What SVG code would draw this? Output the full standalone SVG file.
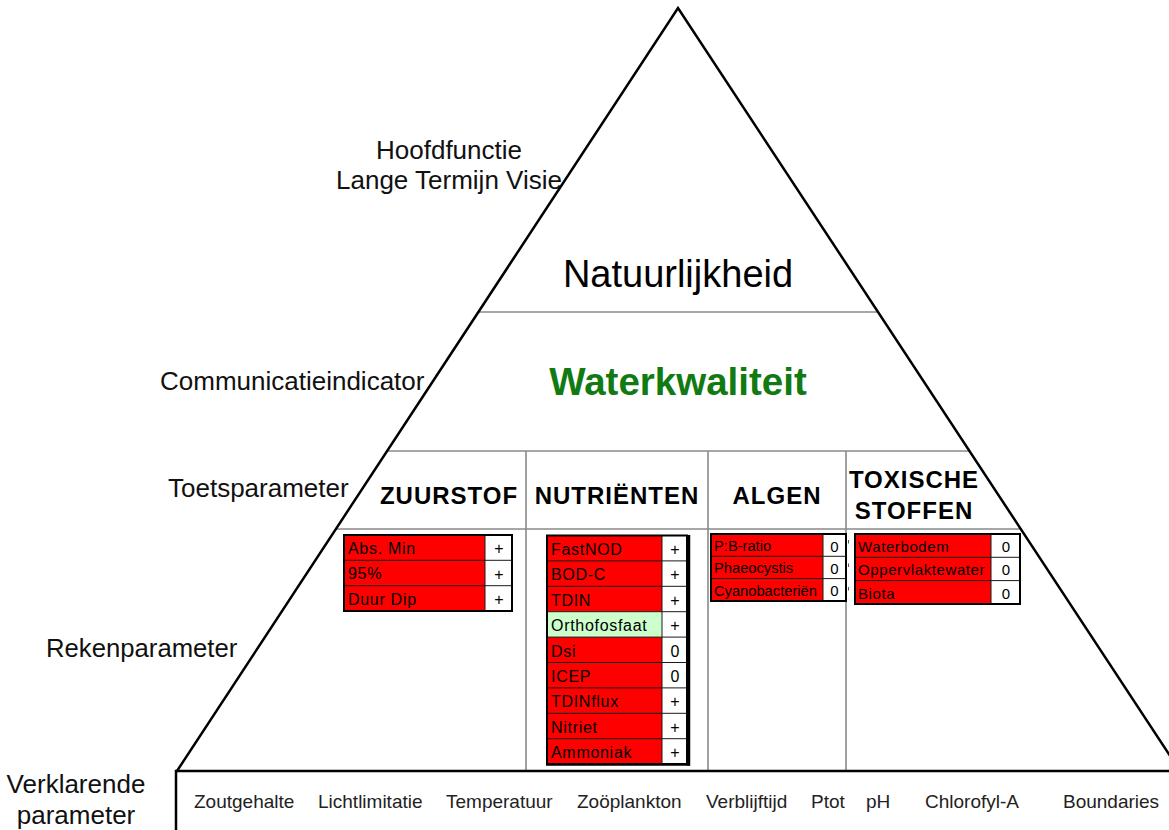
<svg xmlns="http://www.w3.org/2000/svg" width="1169" height="830" viewBox="0 0 1169 830">
  <style>
    .lbl { font-family: "Liberation Sans", Arial, sans-serif; font-size: 26px; fill: #111; }
    .tier { font-family: "Liberation Sans", Arial, sans-serif; fill: #000; text-anchor: middle; }
    .hdr { font-family: "Liberation Sans", Arial, sans-serif; font-size: 24px; font-weight: bold; letter-spacing: 1px; fill: #000; text-anchor: middle; }
    .bot { font-family: "Liberation Sans", Arial, sans-serif; font-size: 19px; fill: #222; }
    .edge { fill: none; stroke: #000; stroke-width: 2.5; stroke-linejoin: miter; }
    .div { stroke: #8a8a8a; stroke-width: 1.6; fill: none; }
    .red { fill: #ff0000; }
    .grn { fill: #ccffcc; }
    .val { fill: #ffffff; }
    .cellline { stroke: #1a1a1a; stroke-width: 1; fill: none; }
    .outer { stroke: #000; stroke-width: 2; fill: none; }
    .cell { font-family: "Liberation Sans", Arial, sans-serif; font-size: 16px; letter-spacing: 0.7px; fill: #000; }
    .cellS { font-family: "Liberation Sans", Arial, sans-serif; font-size: 14.7px; fill: #000; }
    .cellM { font-family: "Liberation Sans", Arial, sans-serif; font-size: 15px; letter-spacing: 0.6px; fill: #000; }
    .v { text-anchor: middle; letter-spacing: 0; }
    .tick { stroke: #555; stroke-width: 1; }
  </style>

  <rect width="1169" height="830" fill="#ffffff"/>

  <!-- pyramid outline, tier dividers and column dividers -->
  <g id="connectors">
    <line class="div" x1="478" y1="312" x2="878" y2="312"/>
    <line class="div" x1="386" y1="451" x2="970" y2="451"/>
    <line class="div" x1="335" y1="529" x2="1021" y2="529"/>
    <line class="div" x1="526" y1="451" x2="526" y2="771"/>
    <line class="div" x1="708" y1="451" x2="708" y2="771"/>
    <line class="div" x1="846" y1="451" x2="846" y2="771"/>
    <polyline class="edge" points="177,771 678,8 1180,771"/>
    <polyline class="edge" points="176,830 176,771 1169,771"/>
  </g>

  <!-- level labels on the left -->
  <g id="level-labels">
    <text class="lbl" x="449" y="159" text-anchor="middle">Hoofdfunctie</text>
    <text class="lbl" x="449" y="189" text-anchor="middle">Lange Termijn Visie</text>
    <text class="lbl" x="160" y="390">Communicatieindicator</text>
    <text class="lbl" x="168" y="497">Toetsparameter</text>
    <text class="lbl" x="46" y="657" style="font-size:25.7px">Rekenparameter</text>
    <text class="lbl" x="76" y="793" text-anchor="middle">Verklarende</text>
    <text class="lbl" x="76" y="824" text-anchor="middle">parameter</text>
  </g>

  <g id="node-natuurlijkheid">
    <text class="tier" x="678" y="287" style="font-size:38px">Natuurlijkheid</text>
  </g>

  <g id="node-waterkwaliteit">
    <text class="tier" x="678" y="395" style="font-size:38.5px;font-weight:bold;fill:#127a12">Waterkwaliteit</text>
  </g>

  <!-- ZUURSTOF -->
  <g id="node-zuurstof">
    <text class="hdr" x="449" y="504">ZUURSTOF</text>
    <rect class="red" x="344" y="535" width="141" height="76"/>
    <rect class="val" x="485" y="535" width="27" height="76"/>
    <line class="cellline" x1="344" y1="560.3" x2="512" y2="560.3"/>
    <line class="cellline" x1="344" y1="585.7" x2="512" y2="585.7"/>
    <line class="cellline" x1="485" y1="535" x2="485" y2="611"/>
    <rect class="outer" x="344" y="535" width="168" height="76"/>
    <text class="cell" x="348" y="553.5">Abs. Min</text>
    <text class="cell" x="348" y="579">95%</text>
    <text class="cell" x="348" y="604.5">Duur Dip</text>
    <text class="cell v" x="499" y="554">+</text>
    <text class="cell v" x="499" y="579.5">+</text>
    <text class="cell v" x="499" y="605">+</text>
  </g>

  <!-- NUTRIËNTEN -->
  <g id="node-nutrienten">
    <text class="hdr" x="617" y="504">NUTRIËNTEN</text>
    <rect class="red" x="547" y="535.5" width="115" height="228.5"/>
    <rect class="grn" x="547" y="611.7" width="115" height="25.4"/>
    <rect class="val" x="662" y="535.5" width="25" height="228.5"/>
    <g class="cellline">
      <line x1="547" y1="560.9" x2="687" y2="560.9"/>
      <line x1="547" y1="586.3" x2="687" y2="586.3"/>
      <line x1="547" y1="611.7" x2="687" y2="611.7"/>
      <line x1="547" y1="637.1" x2="687" y2="637.1"/>
      <line x1="547" y1="662.5" x2="687" y2="662.5"/>
      <line x1="547" y1="687.9" x2="687" y2="687.9"/>
      <line x1="547" y1="713.3" x2="687" y2="713.3"/>
      <line x1="547" y1="738.7" x2="687" y2="738.7"/>
      <line x1="662" y1="535.5" x2="662" y2="764"/>
    </g>
    <rect class="outer" x="547" y="535.5" width="140" height="228.5"/>
    <line x1="688.5" y1="535" x2="688.5" y2="765.5" stroke="#000" stroke-width="3.5"/>
    <line x1="546" y1="764.5" x2="690" y2="764.5" stroke="#000" stroke-width="2.5"/>
    <text class="cell" x="551" y="555">FastNOD</text>
    <text class="cell" x="551" y="580.4">BOD-C</text>
    <text class="cell" x="551" y="605.8">TDIN</text>
    <text class="cell" x="551" y="631.2">Orthofosfaat</text>
    <text class="cell" x="551" y="656.6">Dsi</text>
    <text class="cell" x="551" y="682">ICEP</text>
    <text class="cell" x="551" y="707.4">TDINflux</text>
    <text class="cell" x="551" y="732.8">Nitriet</text>
    <text class="cell" x="551" y="758.2">Ammoniak</text>
    <text class="cell v" x="675" y="555">+</text>
    <text class="cell v" x="675" y="580.4">+</text>
    <text class="cell v" x="675" y="605.8">+</text>
    <text class="cell v" x="675" y="631.2">+</text>
    <text class="cell v" x="675" y="657">0</text>
    <text class="cell v" x="675" y="682.4">0</text>
    <text class="cell v" x="675" y="707.4">+</text>
    <text class="cell v" x="675" y="732.8">+</text>
    <text class="cell v" x="675" y="758.2">+</text>
  </g>

  <!-- ALGEN -->
  <g id="node-algen">
    <text class="hdr" x="777" y="504">ALGEN</text>
    <rect class="red" x="711" y="534" width="112" height="67"/>
    <rect class="val" x="823" y="534" width="23" height="67"/>
    <line class="cellline" x1="711" y1="556.3" x2="846" y2="556.3"/>
    <line class="cellline" x1="711" y1="578.6" x2="846" y2="578.6"/>
    <line class="cellline" x1="823" y1="534" x2="823" y2="601"/>
    <rect class="outer" x="711" y="534" width="135" height="67"/>
    <text class="cellS" x="714" y="551">P:B-ratio</text>
    <text class="cellS" x="714" y="573.3">Phaeocystis</text>
    <text class="cellS" x="714" y="595.6">Cyanobacteriën</text>
    <text class="cellM v" x="834.5" y="551.5">0</text>
    <text class="cellM v" x="834.5" y="573.8">0</text>
    <text class="cellM v" x="834.5" y="596">0</text>
    <line class="tick" x1="848.5" y1="540" x2="848.5" y2="543.5"/>
    <line class="tick" x1="848.5" y1="563.5" x2="848.5" y2="567"/>
    <line class="tick" x1="848.5" y1="587" x2="848.5" y2="590.5"/>
  </g>

  <!-- TOXISCHE STOFFEN -->
  <g id="node-toxische-stoffen">
    <text class="hdr" x="914" y="488">TOXISCHE</text>
    <text class="hdr" x="914" y="519">STOFFEN</text>
    <rect class="red" x="855" y="534" width="136" height="70"/>
    <rect class="val" x="991" y="534" width="29" height="70"/>
    <line class="cellline" x1="855" y1="557.3" x2="1020" y2="557.3"/>
    <line class="cellline" x1="855" y1="580.6" x2="1020" y2="580.6"/>
    <line class="cellline" x1="991" y1="534" x2="991" y2="604"/>
    <rect class="outer" x="855" y="534" width="165" height="70"/>
    <text class="cellM" x="858" y="552">Waterbodem</text>
    <text class="cellM" x="858" y="575.3">Oppervlaktewater</text>
    <text class="cellM" x="858" y="598.6">Biota</text>
    <text class="cellM v" x="1006" y="552">0</text>
    <text class="cellM v" x="1006" y="575.3">0</text>
    <text class="cellM v" x="1006" y="598.6">0</text>
  </g>

  <!-- explanatory parameters along the base -->
  <g id="node-verklarende-parameters">
    <text class="bot" x="194" y="808">Zoutgehalte</text>
    <text class="bot" x="318" y="808">Lichtlimitatie</text>
    <text class="bot" x="446" y="808">Temperatuur</text>
    <text class="bot" x="577" y="808">Zoöplankton</text>
    <text class="bot" x="706" y="808">Verblijftijd</text>
    <text class="bot" x="811" y="808">Ptot</text>
    <text class="bot" x="866" y="808">pH</text>
    <text class="bot" x="925" y="808">Chlorofyl-A</text>
    <text class="bot" x="1063" y="808">Boundaries</text>
  </g>
</svg>
